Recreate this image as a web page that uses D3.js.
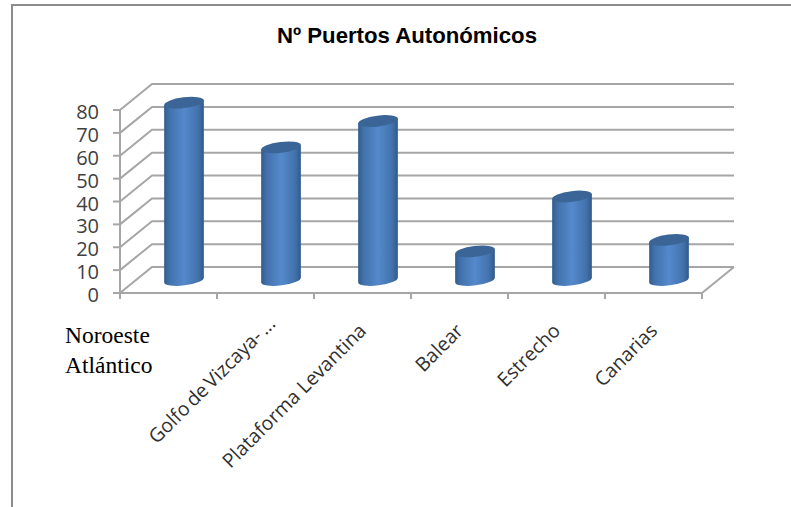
<!DOCTYPE html>
<html><head><meta charset="utf-8">
<script src="https://cdn.jsdelivr.net/npm/d3@7/dist/d3.min.js"></script>
<style>html,body{margin:0;padding:0;background:#fff}svg{display:block}</style>
</head><body><svg id="c" width="791" height="507"></svg>
<script>
const categories = ["Noroeste Atlántico","Golfo de Vizcaya- ...","Plataforma Levantina","Balear","Estrecho","Canarias"];
const values = [77.5,58,69.5,12.5,36.5,17.5];
const yTicks = [0,10,20,30,40,50,60,70,80];
const titleText = "Nº Puertos Autonómicos";
const wrappedLabel = ["Noroeste","Atlántico"];

const svg = d3.select("#c");
const grid = "#a6a6a6";
const depth = {x:32,y:-26};
const x = d3.scaleBand().domain(categories).range([120,702]);
const y = d3.scaleLinear().domain([0,80]).range([293,110]);

const defs = svg.append("defs");
const g = defs.append("linearGradient").attr("id","cyl").attr("x1",0).attr("x2",1).attr("y1",0).attr("y2",0);
[[0,"#315d8f"],[0.15,"#4373ad"],[0.5,"#5489cc"],[0.85,"#4373ad"],[1,"#31598a"]].forEach(([o,c])=>g.append("stop").attr("offset",o).attr("stop-color",c));

// chart frame
svg.append("path").attr("d","M12,507V5H791").attr("fill","none").attr("stroke","#8c8c8c").attr("stroke-width",2);

svg.append("text").attr("x",407).attr("y",43).attr("text-anchor","middle")
  .attr("font-family","Liberation Sans").attr("font-weight","bold").attr("font-size",22.2).attr("fill","#000").text(titleText);

// gridlines: wall, side wall
const gl = svg.append("g").attr("fill","none").attr("stroke",grid).attr("stroke-width",2);
yTicks.forEach(t=>{
  gl.append("path").attr("d",`M${x.range()[0]},${y(t)}L${x.range()[0]+depth.x},${y(t)+depth.y}H${x.range()[1]+depth.x}`);
});
// floor front and right edges, side axis
gl.append("path").attr("d",`M${x.range()[0]},${y(0)}H${x.range()[1]}L${x.range()[1]+depth.x},${y(0)+depth.y}`);
gl.append("path").attr("d",`M${x.range()[0]},${y(0)}V${y(80)}`);
yTicks.forEach(t=>gl.append("path").attr("d",`M${x.range()[0]-7},${y(t)}H${x.range()[0]}`));
x.domain().concat(["end"]).forEach((c,i)=>{
  const px = c==="end"?x.range()[1]:x(c);
  gl.append("path").attr("d",`M${px},${y(0)}V${y(0)+6}`);
});

// y labels
svg.append("g").selectAll("text").data(yTicks).join("text")
  .attr("x",99).attr("y",d=>y(d)+9).attr("text-anchor","end")
  .attr("font-family","Open Sans").attr("font-size",20).attr("fill","#404040").text(d=>d);

// cylinders
const rx = 20, ry = 5.4, tilt = -7;
const ex = rx*Math.cos(tilt*Math.PI/180), ey = -rx*Math.sin(tilt*Math.PI/180);
const bars = svg.append("g").selectAll("g").data(categories).join("g")
  .attr("transform",d=>`translate(${x(d)+x.bandwidth()/2+depth.x/2-0.5},0)`);
const y0 = v=>y(v)+depth.y/2;
bars.append("path").attr("fill","url(#cyl)")
  .attr("d",(d,i)=>{
    const t=y0(values[i]), b=y0(0);
    return `M${-ex},${t+ey}L${-ex},${b+ey}A${rx},${ry} ${tilt} 0 0 ${ex},${b-ey}L${ex},${t-ey}Z`;
  });
bars.append("ellipse").attr("rx",rx).attr("ry",ry)
  .attr("transform",(d,i)=>`translate(0,${y0(values[i])}) rotate(${tilt})`)
  .attr("fill","#3a6596");

// category labels
svg.append("g").selectAll("text").data(wrappedLabel).join("text")
  .attr("x",65).attr("y",(d,i)=>343+i*30)
  .attr("font-family","Liberation Serif").attr("font-size",23.5).attr("fill","#000").text(d=>d);
svg.append("g").selectAll("text").data(categories.slice(1)).join("text")
  .attr("text-anchor","end")
  .attr("word-spacing",(d,i)=>i===0?-2:0)
  .attr("transform",(d,i)=>`translate(${x(d)+x.bandwidth()/2+5+(i===0?6:0)},${332-(i===0?7:0)}) rotate(-45)`)
  .attr("font-family","Open Sans").attr("font-size",19.5).attr("fill","#303030").text(d=>d);
</script></body></html>
